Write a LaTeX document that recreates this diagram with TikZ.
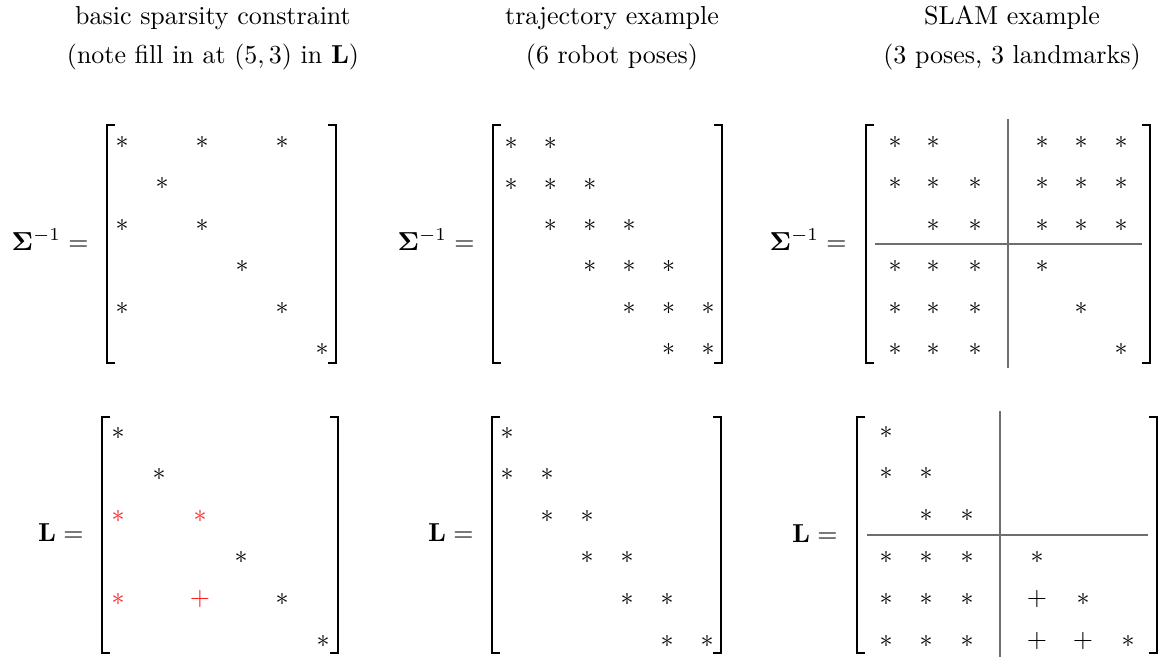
\documentclass[tikz,border=0pt]{standalone}
\usepackage{amsmath,amssymb}
\usepackage{tikz}
\usetikzlibrary{positioning}
\usepackage{xcolor}
\definecolor{FillRed}{HTML}{FF2020}
\definecolor{BlockGray}{HTML}{6E6E6E}

% left and right bracket of a matrix: left x, right x, top y, bottom y
\newcommand{\mbrackets}[4]{%
  \draw[brk] (#1+8,#3) -| (#1,#4) -- (#1+8,#4);
  \draw[brk] (#2-8,#3) -| (#2,#4) -- (#2-8,#4);
}

\begin{document}
\begin{tikzpicture}[
    x=0.385pt, y=-0.385pt,
    ent/.style={inner sep=0pt},
    fillin/.style={ent, text=FillRed},
    lbl/.style={anchor=base east, inner sep=0pt},
    ttl/.style={anchor=base, inner sep=0pt},
    brk/.style={line width=0.75pt},
    part/.style={draw=BlockGray, line width=0.6pt}
  ]
    \useasboundingbox (0,0) rectangle (1164,657);

    % titles
    \node[ttl] (t1a) at (213,24) {basic sparsity constraint};
    \node[ttl] (t1b) at (213,63) {(note fill in at $(5,3)$ in $\mathbf{L}$)};
    \node[ttl] (t2a) at (612,24) {trajectory example};
    \node[ttl] (t2b) at (612,63) {(6 robot poses)};
    \node[ttl] (t3a) at (1012,24) {SLAM example};
    \node[ttl] (t3b) at (1012,63) {(3 poses, 3 landmarks)};

    % basic sparsity constraint
    \node[lbl] (s1) at (89,250) {$\mathbf{\Sigma}^{-1} =$};
    \mbrackets{107}{336}{125}{363}
    \foreach \r/\c in {1/1,1/3,1/5,2/2,3/1,3/3,4/4,5/1,5/5,6/6}
      \node[ent] (s1-\r-\c) at ({122+40*(\c-1)}, {142+41.5*(\r-1)}) {$\ast$};

    \node[lbl] (l1) at (84,541) {$\mathbf{L} =$};
    \mbrackets{102}{338}{417}{653}
    \foreach \r/\c in {1/1,2/2,4/4,5/5,6/6}
      \node[ent] (l1-\r-\c) at ({118+41*(\c-1)}, {433+41.6*(\r-1)}) {$\ast$};
    \foreach \r/\c in {3/1,3/3,5/1}
      \node[fillin] (l1-\r-\c) at ({118+41*(\c-1)}, {433+41.6*(\r-1)}) {$\ast$};
    \node[fillin] (l1-5-3) at ({118+41*2}, {433+41.6*4}) {$+$};

    % trajectory example
    \node[lbl] (s2) at (475,250) {$\mathbf{\Sigma}^{-1} =$};
    \mbrackets{493}{722}{125}{363}
    \foreach \r/\c in {1/1,1/2,2/1,2/2,2/3,3/2,3/3,3/4,4/3,4/4,4/5,5/4,5/5,5/6,6/5,6/6}
      \node[ent] (s2-\r-\c) at ({511+39.4*(\c-1)}, {143+41.3*(\r-1)}) {$\ast$};

    \node[lbl] (l2) at (474,541) {$\mathbf{L} =$};
    \mbrackets{492}{721}{417}{653}
    \foreach \r/\c in {1/1,2/1,2/2,3/2,3/3,4/3,4/4,5/4,5/5,6/5,6/6}
      \node[ent] (l2-\r-\c) at ({507+40*(\c-1)}, {433+41.6*(\r-1)}) {$\ast$};

    % SLAM example
    \node[lbl] (s3) at (847,250) {$\mathbf{\Sigma}^{-1} =$};
    \mbrackets{866}{1150}{125}{363}
    \draw[part] (1008,119) -- (1008,368);
    \draw[part] (875,244) -- (1142,244);
    \foreach \r/\c in {1/1,1/2,1/4,1/5,1/6,2/1,2/2,2/3,2/4,2/5,2/6,3/2,3/3,3/4,3/5,3/6,
                       4/1,4/2,4/3,4/4,5/1,5/2,5/3,5/5,6/1,6/2,6/3,6/6} {
      \pgfmathsetmacro{\xx}{{895,933,975,1042,1081,1121}[\c-1]}
      \node[ent] (s3-\r-\c) at (\xx, {142+41.5*(\r-1)}) {$\ast$};
    }

    \node[lbl] (l3) at (838,542) {$\mathbf{L} =$};
    \mbrackets{857}{1157}{417}{653}
    \draw[part] (1000,411) -- (1000,657);
    \draw[part] (867,535) -- (1148,535);
    \foreach \r/\c/\e in {1/1/\ast,2/1/\ast,2/2/\ast,3/2/\ast,3/3/\ast,
                          4/1/\ast,4/2/\ast,4/3/\ast,4/4/\ast,
                          5/1/\ast,5/2/\ast,5/3/\ast,5/4/+,5/5/\ast,
                          6/1/\ast,6/2/\ast,6/3/\ast,6/4/+,6/5/+,6/6/\ast} {
      \pgfmathsetmacro{\xx}{{886,926,967,1037,1083,1128}[\c-1]}
      \node[ent] (l3-\r-\c) at (\xx, {432+41.8*(\r-1)}) {$\e$};
    }
  \end{tikzpicture}
\end{document}
